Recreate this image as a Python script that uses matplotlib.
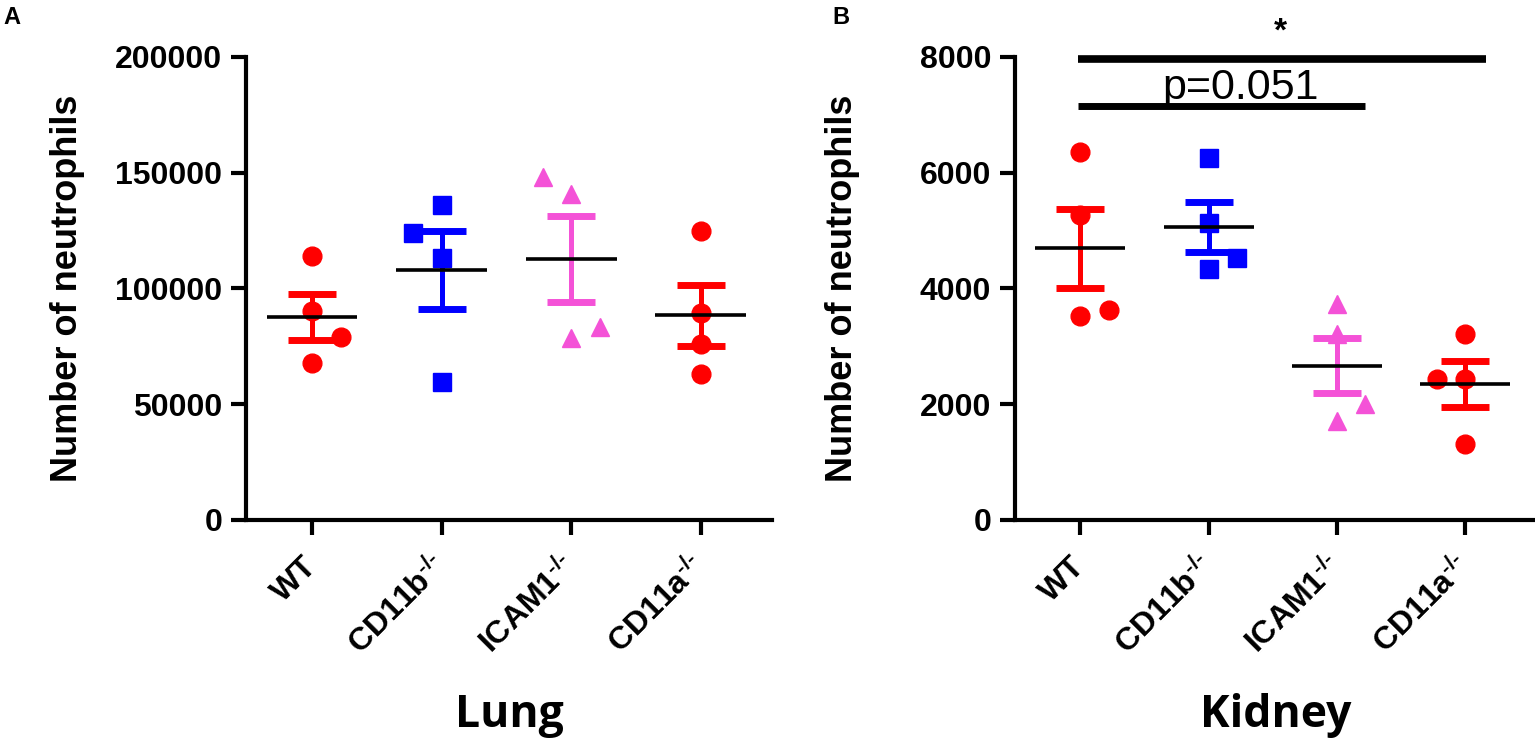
import matplotlib
matplotlib.use('Agg')
import matplotlib.pyplot as plt
import numpy as np

# data
tick_labels = ['WT', 'CD11b$^{\u2010/\u2010}$', 'ICAM1$^{\u2010/\u2010}$',
               'CD11a$^{\u2010/\u2010}$']

lung_wt = [114000, 90300, 79000, 67800]
lung_cd11b = [136000, 124000, 113000, 59600]
lung_icam1 = [148000, 141000, 83400, 78600]
lung_cd11a = [125000, 89500, 76000, 62900]

kidney_wt = [6350, 5270, 3525, 3630]
kidney_cd11b = [6250, 5140, 4530, 4330]
kidney_icam1 = [3730, 3220, 2010, 1710]
kidney_cd11a = [3220, 2430, 2430, 1310]

lung_ticks = [0, 50000, 100000, 150000, 200000]
kidney_ticks = [0, 2000, 4000, 6000, 8000]

colors = ['#FF0000', '#0000FF', '#F452D7', '#FF0000']
markers = ['o', 's', '^', 'o']

# sideways nudge for overlapping points (-1 left, 1 right)
lung_nudge = [[0, 0, 1, 0], [0, -1, 0, 0], [-1, 0, 1, 0], [0, 0, 0, 0]]
kidney_nudge = [[0, 0, 0, 1], [0, 0, 1, 0], [0, 0, 1, 0], [0, -1, 0, 0]]

plt.rcParams['font.family'] = ['Liberation Sans', 'DejaVu Sans']
plt.rcParams['font.weight'] = 'bold'
plt.rcParams['mathtext.fontset'] = 'custom'
plt.rcParams['mathtext.rm'] = 'Liberation Sans:bold'
plt.rcParams['mathtext.it'] = 'Liberation Sans:bold'
plt.rcParams['mathtext.bf'] = 'Liberation Sans:bold'


def draw_panel(ax, data, nudge, yticks, title, label_x):
    for i, vals in enumerate(data):
        vals = np.array(vals, dtype=float)
        xs = i + 0.22 * np.array(nudge[i])
        ax.plot(xs, vals, ls='none', marker=markers[i], ms=13.5,
                color=colors[i], mec=colors[i], zorder=2)
        m = vals.mean()
        sem = vals.std(ddof=1) / np.sqrt(len(vals))
        ax.errorbar(i, m, yerr=sem, fmt='none', ecolor=colors[i],
                    elinewidth=3.6, capsize=17.6, capthick=5, zorder=3)
        ax.hlines(m, i - 0.35, i + 0.35, color='black', lw=2.6, zorder=4)

    ax.set_xlim(-0.51, 3.55)
    ax.set_ylim(yticks[0], yticks[-1])
    ax.set_yticks(yticks)
    ax.set_yticklabels([str(t) for t in yticks])
    ax.set_xticks(range(4))
    ax.set_xticklabels(tick_labels, rotation=45, ha='right', va='center',
                       rotation_mode='anchor')
    for s in ['top', 'right']:
        ax.spines[s].set_visible(False)
    for s in ['left', 'bottom']:
        ax.spines[s].set_linewidth(3)
    ax.tick_params(length=11, width=3, labelsize=23)
    ax.tick_params(axis='y', pad=6)
    ax.tick_params(axis='x', pad=19)
    ax.set_ylabel('Number of neutrophils', fontsize=26, fontweight='bold')
    ax.yaxis.set_label_coords(label_x, 0.5)
    ax.text(0.5, -0.447, title, transform=ax.transAxes, ha='center',
            va='baseline', fontsize=32, fontweight='bold', family='Open Sans')


fig = plt.figure(figsize=(15.35, 7.44), dpi=100)
ax1 = fig.add_axes([0.1603, 0.3011, 0.3427, 0.6223])
ax2 = fig.add_axes([0.6612, 0.3011, 0.3394, 0.6223])

draw_panel(ax1, [lung_wt, lung_cd11b, lung_icam1, lung_cd11a], lung_nudge,
           lung_ticks, 'Lung', -0.306)
draw_panel(ax2, [kidney_wt, kidney_cd11b, kidney_icam1, kidney_cd11a],
           kidney_nudge, kidney_ticks, 'Kidney', -0.297)

# significance bars
ax2.plot([-0.02, 3.16], [7965, 7965], color='black', lw=5.5,
         solid_capstyle='butt', clip_on=False)
ax2.plot([-0.02, 2.22], [7150, 7150], color='black', lw=5,
         solid_capstyle='butt', clip_on=False)
ax2.text(1.25, 7275, 'p=0.051', ha='center', va='baseline', fontsize=31,
         fontweight='normal')
ax2.text(1.56, 8280, '*', ha='center', va='baseline', fontsize=24,
         fontweight='bold')

fig.text(0.002, 1 - 24 / 744, 'A', fontsize=17, fontweight='bold')
fig.text(0.5425, 1 - 24 / 744, 'B', fontsize=17, fontweight='bold')

fig.savefig('out.png', dpi=100)
